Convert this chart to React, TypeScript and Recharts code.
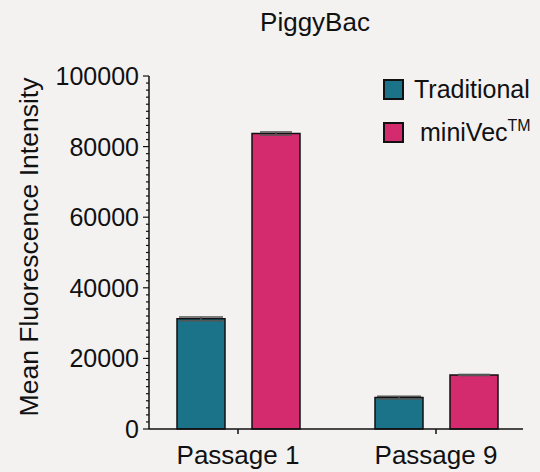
import React from 'react';
import { BarChart, Bar, XAxis, YAxis, ErrorBar } from 'recharts';

const categories = ['Passage 1', 'Passage 9'];
const traditional = [31200, 8900];
const traditionalErr = [500, 400];
const miniVec = [83700, 15300];
const miniVecErr = [450, 150];
const majorTicks = [0, 20000, 40000, 60000, 80000, 100000];

const TEAL = '#1b7389';
const PINK = '#d42a6e';
const FONT = 'Liberation Sans, Arial, sans-serif';

const data = categories.map((name, i) => ({
  name,
  traditional: traditional[i],
  traditionalErr: traditionalErr[i],
  miniVec: miniVec[i],
  miniVecErr: miniVecErr[i],
}));

const allTicks: number[] = [];
for (let v = 0; v <= 100000; v += 2000) allTicks.push(v);

const YTick = (props: any) => {
  const { x, y, payload } = props;
  const major = majorTicks.includes(payload.value);
  return (
    <g>
      <line x1={x - (major ? 6 : 3)} x2={x} y1={y} y2={y} stroke="#111" strokeWidth={1.2} />
      {major && (
        <text x={x - 10} y={y} dy={9} textAnchor="end" fontSize={25} fill="#111" fontFamily={FONT}>
          {payload.value}
        </text>
      )}
    </g>
  );
};

const XTick = (props: any) => {
  const { x, y, payload } = props;
  return (
    <g>
      <line x1={x} x2={x} y1={y} y2={y + 5} stroke="#111" strokeWidth={1.5} />
      <text x={x} y={y + 35} textAnchor="middle" fontSize={26} fill="#111" fontFamily={FONT}>
        {payload.value}
      </text>
    </g>
  );
};

const LegendBox = () => (
  <div style={{ position: 'absolute', left: 383, top: 75, fontFamily: FONT, fontSize: 25, color: '#111' }}>
    <div style={{ display: 'flex', alignItems: 'center', height: 28 }}>
      <span style={{ width: 17, height: 17, background: TEAL, border: '2px solid #111', display: 'inline-block' }} />
      <span style={{ marginLeft: 10 }}>Traditional</span>
    </div>
    <div style={{ display: 'flex', alignItems: 'center', height: 28, marginTop: 15 }}>
      <span style={{ width: 17, height: 17, background: PINK, border: '2px solid #111', display: 'inline-block' }} />
      <span style={{ marginLeft: 16 }}>
        miniVec<sup style={{ fontSize: 16, verticalAlign: 'top', position: 'relative', top: -1 }}>TM</sup>
      </span>
    </div>
  </div>
);

export default function App() {
  return (
    <div style={{ position: 'absolute', left: 0, top: 0, width: 540, height: 472, background: '#f3f2f1' }}>
      <div
        style={{
          position: 'absolute',
          left: 0,
          width: 630,
          top: 7,
          textAlign: 'center',
          fontFamily: FONT,
          fontSize: 26,
          color: '#111',
        }}
      >
        PiggyBac
      </div>
      <div
        style={{
          position: 'absolute',
          left: 29,
          top: 247,
          transform: 'translate(-50%, -50%) rotate(-90deg)',
          whiteSpace: 'nowrap',
          fontFamily: FONT,
          fontSize: 26.5,
          color: '#111',
        }}
      >
        Mean Fluorescence Intensity
      </div>
      <BarChart
        width={540}
        height={472}
        data={data}
        margin={{ top: 76, right: 17, bottom: 0, left: 0 }}
        barSize={48}
        barGap={27}
        style={{ position: 'absolute', left: 0, top: 0 }}
      >
        <XAxis
          dataKey="name"
          height={43}
          padding={{ left: -10, right: -12 }}
          axisLine={{ stroke: '#111', strokeWidth: 1.5 }}
          tickLine={false}
          tickSize={0}
          tickMargin={0}
          tick={<XTick />}
          interval={0}
        />
        <YAxis
          width={149}
          domain={[0, 100000]}
          ticks={allTicks}
          interval={0}
          axisLine={{ stroke: '#111', strokeWidth: 1.5 }}
          tickLine={false}
          tickSize={0}
          tickMargin={0}
          tick={<YTick />}
        />
        <Bar dataKey="traditional" fill={TEAL} stroke="#111" strokeWidth={1.5} isAnimationActive={false}>
          <ErrorBar dataKey="traditionalErr" width={22} stroke="#555" strokeWidth={1.5} />
        </Bar>
        <Bar dataKey="miniVec" fill={PINK} stroke="#111" strokeWidth={1.5} isAnimationActive={false}>
          <ErrorBar dataKey="miniVecErr" width={16} stroke="#555" strokeWidth={1.5} />
        </Bar>
      </BarChart>
      <LegendBox />
    </div>
  );
}
